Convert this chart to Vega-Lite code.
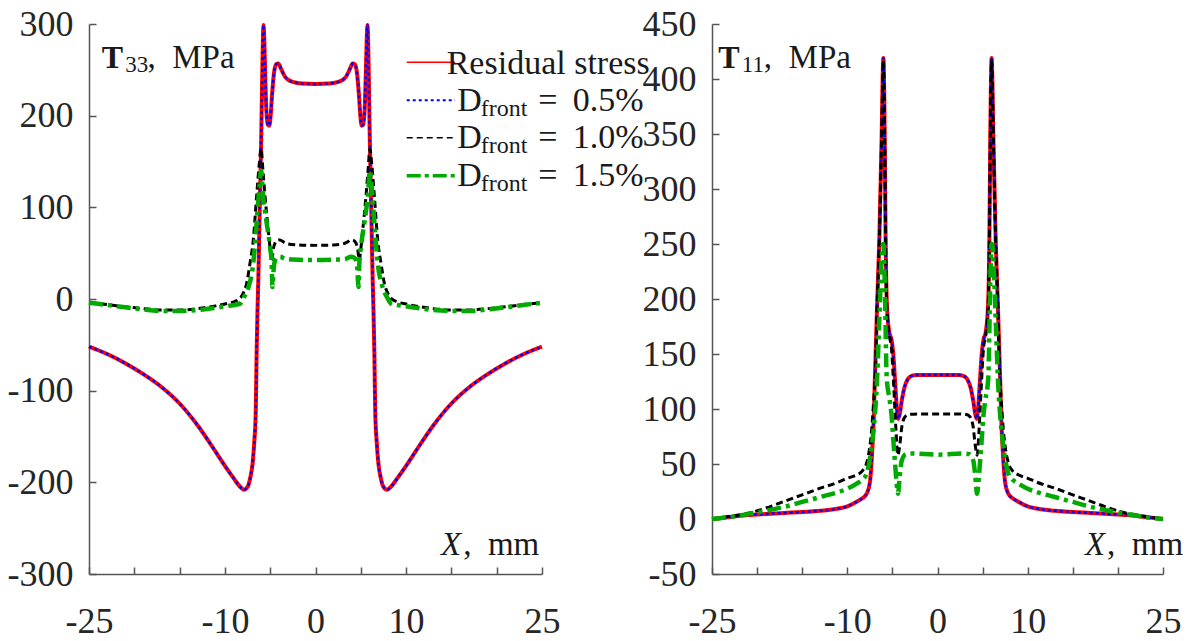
{
  "$schema": "https://vega.github.io/schema/vega-lite/v6.json",
  "padding": {"left": 7, "top": 6, "right": 0, "bottom": 0},
  "config": {
    "font": "Liberation Serif",
    "view": {"stroke": null},
    "axis": {"title": null, "grid": false, "domainColor": "#555555", "domainWidth": 1.5, "tickColor": "#555555", "tickWidth": 1.5, "tickSize": -7, "labelFont": "Liberation Serif", "labelFontSize": 36, "labelColor": "#262626", "labelOverlap": false, "labelFlush": false, "labelBound": false},
    "axisX": {"labelPadding": 37},
    "axisY": {"labelPadding": 23},
    "text": {"font": "Liberation Serif", "color": "#1a1a1a"}
  },
  "datasets": {
    "rs33": [
      {"x":-25,"y":-52},{"x":-23,"y":-60},{"x":-21,"y":-70},{"x":-19,"y":-82},{"x":-17,"y":-96},{"x":-15,"y":-114},{"x":-13,"y":-138},{"x":-11,"y":-167},{"x":-10,"y":-182},{"x":-9,"y":-196},{"x":-8.4,"y":-204},{"x":-7.9,"y":-208},{"x":-7.5,"y":-205},{"x":-7.2,"y":-195},{"x":-6.95,"y":-180},{"x":-6.75,"y":-155},{"x":-6.6,"y":-125},{"x":-6.55,"y":-95},{"x":-6.5,"y":-60},{"x":-6.4,"y":-12},{"x":-6.31,"y":21},{"x":-6.15,"y":100},{"x":-5.98,"y":182},{"x":-5.87,"y":250},{"x":-5.8,"y":285},{"x":-5.74,"y":299},{"x":-5.66,"y":285},{"x":-5.55,"y":245},{"x":-5.42,"y":205},{"x":-5.25,"y":190},{"x":-5.1,"y":189},{"x":-4.95,"y":200},{"x":-4.8,"y":222},{"x":-4.6,"y":245},{"x":-4.35,"y":256},{"x":-4.1,"y":257},{"x":-3.8,"y":251},{"x":-3.4,"y":243},{"x":-3.0,"y":239},{"x":-2.4,"y":236.5},{"x":-1.5,"y":235},{"x":0,"y":234.5},
      {"x":1.5,"y":235},{"x":2.4,"y":236.5},{"x":3.0,"y":239},{"x":3.4,"y":243},{"x":3.8,"y":251},{"x":4.1,"y":257},{"x":4.35,"y":256},{"x":4.6,"y":245},{"x":4.8,"y":222},{"x":4.95,"y":200},{"x":5.1,"y":189},{"x":5.25,"y":190},{"x":5.42,"y":205},{"x":5.55,"y":245},{"x":5.66,"y":285},{"x":5.74,"y":299},{"x":5.8,"y":285},{"x":5.87,"y":250},{"x":5.98,"y":182},{"x":6.15,"y":100},{"x":6.31,"y":21},{"x":6.4,"y":-12},{"x":6.5,"y":-60},{"x":6.55,"y":-95},{"x":6.6,"y":-125},{"x":6.75,"y":-155},{"x":6.95,"y":-180},{"x":7.2,"y":-195},{"x":7.5,"y":-205},{"x":7.9,"y":-208},{"x":8.4,"y":-204},{"x":9,"y":-196},{"x":10,"y":-182},{"x":11,"y":-167},{"x":13,"y":-138},{"x":15,"y":-114},{"x":17,"y":-96},{"x":19,"y":-82},{"x":21,"y":-70},{"x":23,"y":-60},{"x":25,"y":-52}
    ],
    "d10_33": [
      {"x":-25,"y":-4},{"x":-23,"y":-6},{"x":-21,"y":-8.5},{"x":-19,"y":-10.5},{"x":-17,"y":-12},{"x":-15,"y":-12},{"x":-13,"y":-10.5},{"x":-11,"y":-7.5},{"x":-10,"y":-5.5},{"x":-9,"y":-3},{"x":-8.3,"y":1},{"x":-7.9,"y":8},{"x":-7.6,"y":17},{"x":-7.23,"y":39},{"x":-6.87,"y":64},{"x":-6.5,"y":112},{"x":-6.2,"y":148},{"x":-6.0,"y":164},{"x":-5.8,"y":140},{"x":-5.57,"y":112},{"x":-5.21,"y":75},{"x":-4.95,"y":50},{"x":-4.84,"y":42},{"x":-4.65,"y":55},{"x":-4.47,"y":61},{"x":-4.2,"y":64},{"x":-3.92,"y":64.5},{"x":-3.5,"y":62},{"x":-3.0,"y":60},{"x":-2,"y":59},{"x":0,"y":58.5},
      {"x":2,"y":59},{"x":3.0,"y":60},{"x":3.5,"y":62},{"x":3.92,"y":64.5},{"x":4.2,"y":64},{"x":4.47,"y":61},{"x":4.65,"y":55},{"x":4.84,"y":42},{"x":4.95,"y":50},{"x":5.21,"y":75},{"x":5.57,"y":112},{"x":5.8,"y":140},{"x":6.0,"y":164},{"x":6.2,"y":148},{"x":6.5,"y":112},{"x":6.87,"y":64},{"x":7.23,"y":39},{"x":7.6,"y":17},{"x":7.9,"y":8},{"x":8.3,"y":1},{"x":9,"y":-3},{"x":10,"y":-5.5},{"x":11,"y":-7.5},{"x":13,"y":-10.5},{"x":15,"y":-12},{"x":17,"y":-12},{"x":19,"y":-10.5},{"x":21,"y":-8.5},{"x":23,"y":-6},{"x":25,"y":-4}
    ],
    "d15_33": [
      {"x":-25,"y":-4},{"x":-23,"y":-6.5},{"x":-21,"y":-9},{"x":-19,"y":-11.5},{"x":-17,"y":-13},{"x":-15,"y":-13},{"x":-13,"y":-12},{"x":-11,"y":-9.5},{"x":-10,"y":-8},{"x":-9,"y":-6.5},{"x":-8.33,"y":-5},{"x":-7.9,"y":2},{"x":-7.4,"y":13},{"x":-6.87,"y":39},{"x":-6.5,"y":83},{"x":-6.2,"y":122},{"x":-6.0,"y":140},{"x":-5.8,"y":115},{"x":-5.39,"y":83},{"x":-5.02,"y":57},{"x":-4.84,"y":39},{"x":-4.75,"y":13},{"x":-4.6,"y":35},{"x":-4.47,"y":42},{"x":-4.28,"y":45},{"x":-3.9,"y":46},{"x":-3.4,"y":44},{"x":-2.5,"y":43},{"x":0,"y":42.5},
      {"x":2.5,"y":43},{"x":3.4,"y":44},{"x":3.9,"y":46},{"x":4.28,"y":45},{"x":4.47,"y":42},{"x":4.6,"y":35},{"x":4.75,"y":13},{"x":4.84,"y":39},{"x":5.02,"y":57},{"x":5.39,"y":83},{"x":5.8,"y":115},{"x":6.0,"y":140},{"x":6.2,"y":122},{"x":6.5,"y":83},{"x":6.87,"y":39},{"x":7.4,"y":13},{"x":7.9,"y":2},{"x":8.33,"y":-5},{"x":9,"y":-6.5},{"x":10,"y":-8},{"x":11,"y":-9.5},{"x":13,"y":-12},{"x":15,"y":-13},{"x":17,"y":-13},{"x":19,"y":-11.5},{"x":21,"y":-9},{"x":23,"y":-6.5},{"x":25,"y":-4}
    ],
    "rs11": [
      {"x":-25,"y":0},{"x":-23,"y":1.8},{"x":-21,"y":3.6},{"x":-19,"y":4.6},{"x":-17,"y":5.5},{"x":-15,"y":6.3},{"x":-13,"y":7.5},{"x":-11,"y":9.5},{"x":-10,"y":11.5},{"x":-9,"y":15.5},{"x":-8.3,"y":19},{"x":-7.85,"y":23},{"x":-7.5,"y":33},{"x":-7.25,"y":60},{"x":-7.05,"y":96},{"x":-6.95,"y":126},{"x":-6.7,"y":193},{"x":-6.45,"y":254},{"x":-6.2,"y":345},{"x":-6.0,"y":419},{"x":-5.85,"y":345},{"x":-5.75,"y":254},{"x":-5.6,"y":193},{"x":-5.35,"y":170},{"x":-5.1,"y":163},{"x":-4.9,"y":150},{"x":-4.7,"y":125},{"x":-4.5,"y":100},{"x":-4.35,"y":91},{"x":-4.2,"y":95},{"x":-3.95,"y":108},{"x":-3.65,"y":120},{"x":-3.3,"y":127},{"x":-2.9,"y":130},{"x":-2.3,"y":131},{"x":0,"y":131},
      {"x":2.3,"y":131},{"x":2.9,"y":130},{"x":3.3,"y":127},{"x":3.65,"y":120},{"x":3.95,"y":108},{"x":4.2,"y":95},{"x":4.35,"y":91},{"x":4.5,"y":100},{"x":4.7,"y":125},{"x":4.9,"y":150},{"x":5.1,"y":163},{"x":5.35,"y":170},{"x":5.6,"y":193},{"x":5.75,"y":254},{"x":5.85,"y":345},{"x":6.0,"y":419},{"x":6.2,"y":345},{"x":6.45,"y":254},{"x":6.7,"y":193},{"x":6.95,"y":126},{"x":7.05,"y":96},{"x":7.25,"y":60},{"x":7.5,"y":33},{"x":7.85,"y":23},{"x":8.3,"y":19},{"x":9,"y":15.5},{"x":10,"y":11.5},{"x":11,"y":9.5},{"x":13,"y":7.5},{"x":15,"y":6.3},{"x":17,"y":5.5},{"x":19,"y":4.6},{"x":21,"y":3.6},{"x":23,"y":1.8},{"x":25,"y":0}
    ],
    "d10_11": [
      {"x":-25,"y":0},{"x":-23,"y":2.5},{"x":-21,"y":5.2},{"x":-19,"y":10},{"x":-17,"y":16},{"x":-15,"y":22},{"x":-13,"y":28},{"x":-11,"y":33.5},{"x":-10,"y":37},{"x":-9,"y":40},{"x":-8.3,"y":44},{"x":-7.85,"y":51},{"x":-7.5,"y":66},{"x":-7.3,"y":81},{"x":-7.05,"y":111},{"x":-6.9,"y":130},{"x":-6.7,"y":193},{"x":-6.45,"y":254},{"x":-6.2,"y":345},{"x":-6.0,"y":417},{"x":-5.85,"y":345},{"x":-5.75,"y":254},{"x":-5.6,"y":190},{"x":-5.35,"y":167},{"x":-5.1,"y":155},{"x":-4.85,"y":120},{"x":-4.6,"y":80},{"x":-4.4,"y":58},{"x":-4.2,"y":66},{"x":-3.95,"y":84},{"x":-3.6,"y":93},{"x":-3.2,"y":95},{"x":-2,"y":95.5},{"x":0,"y":95.5},
      {"x":2,"y":95.5},{"x":3.2,"y":95},{"x":3.6,"y":93},{"x":3.95,"y":84},{"x":4.2,"y":66},{"x":4.4,"y":58},{"x":4.6,"y":80},{"x":4.85,"y":120},{"x":5.1,"y":155},{"x":5.35,"y":167},{"x":5.6,"y":190},{"x":5.75,"y":254},{"x":5.85,"y":345},{"x":6.0,"y":417},{"x":6.2,"y":345},{"x":6.45,"y":254},{"x":6.7,"y":193},{"x":6.9,"y":130},{"x":7.05,"y":111},{"x":7.3,"y":81},{"x":7.5,"y":66},{"x":7.85,"y":51},{"x":8.3,"y":44},{"x":9,"y":40},{"x":10,"y":37},{"x":11,"y":33.5},{"x":13,"y":28},{"x":15,"y":22},{"x":17,"y":16},{"x":19,"y":10},{"x":21,"y":5.2},{"x":23,"y":2.5},{"x":25,"y":0}
    ],
    "d15_11": [
      {"x":-25,"y":0},{"x":-23,"y":1.8},{"x":-21,"y":4.5},{"x":-19,"y":7.5},{"x":-17,"y":11},{"x":-15,"y":15.5},{"x":-13,"y":20},{"x":-11,"y":24.5},{"x":-10,"y":27.5},{"x":-9,"y":32},{"x":-8.3,"y":36},{"x":-7.85,"y":41.5},{"x":-7.3,"y":66},{"x":-6.93,"y":96},{"x":-6.74,"y":120},{"x":-6.5,"y":170},{"x":-6.3,"y":215},{"x":-6.1,"y":248},{"x":-6.0,"y":250},{"x":-5.85,"y":215},{"x":-5.63,"y":128},{"x":-5.3,"y":108},{"x":-5.08,"y":93},{"x":-4.9,"y":72},{"x":-4.71,"y":51},{"x":-4.5,"y":30},{"x":-4.38,"y":23},{"x":-4.2,"y":38},{"x":-3.97,"y":53},{"x":-3.5,"y":59},{"x":-3.0,"y":59.5},{"x":0,"y":58.5},
      {"x":3.0,"y":59.5},{"x":3.5,"y":59},{"x":3.97,"y":53},{"x":4.2,"y":38},{"x":4.38,"y":23},{"x":4.5,"y":30},{"x":4.71,"y":51},{"x":4.9,"y":72},{"x":5.08,"y":93},{"x":5.3,"y":108},{"x":5.63,"y":128},{"x":5.85,"y":215},{"x":6.0,"y":250},{"x":6.1,"y":248},{"x":6.3,"y":215},{"x":6.5,"y":170},{"x":6.74,"y":120},{"x":6.93,"y":96},{"x":7.3,"y":66},{"x":7.85,"y":41.5},{"x":8.3,"y":36},{"x":9,"y":32},{"x":10,"y":27.5},{"x":11,"y":24.5},{"x":13,"y":20},{"x":15,"y":15.5},{"x":17,"y":11},{"x":19,"y":7.5},{"x":21,"y":4.5},{"x":23,"y":1.8},{"x":25,"y":0}
    ],
    "note": [{}]
  },
  "spacing": 170,
  "bounds": "flush",
  "hconcat": [
    {
      "width": 453,
      "height": 550,
      "layer": [
        {"data": {"name": "rs33"}, "mark": {"type": "line", "color": "#ff0000", "strokeWidth": 4, "interpolate": "monotone"},
         "encoding": {
           "x": {"field": "x", "type": "quantitative", "scale": {"domain": [-25, 25], "nice": false}, "axis": {"values": [-25,-20,-15,-10,-5,0,5,10,15,20,25], "labelExpr": "(datum.value == -25 || datum.value == -10 || datum.value == 0 || datum.value == 10 || datum.value == 25) ? '' + datum.value : ''"}},
           "y": {"field": "y", "type": "quantitative", "scale": {"domain": [-300, 300], "nice": false}, "axis": {"values": [-300,-200,-100,0,100,200,300], "labelExpr": "'' + datum.value"}}
         }},
        {"data": {"name": "rs33"}, "mark": {"type": "line", "color": "#0000ff", "strokeWidth": 2.5, "strokeDash": [3, 3], "interpolate": "monotone"},
         "encoding": {"x": {"field": "x", "type": "quantitative"}, "y": {"field": "y", "type": "quantitative"}}},
        {"data": {"name": "d10_33"}, "mark": {"type": "line", "color": "#000000", "strokeWidth": 3, "strokeDash": [7, 4], "interpolate": "monotone"},
         "encoding": {"x": {"field": "x", "type": "quantitative"}, "y": {"field": "y", "type": "quantitative"}}},
        {"data": {"name": "d15_33"}, "mark": {"type": "line", "color": "#00aa00", "strokeWidth": 4.5, "strokeDash": [14, 5, 4, 5], "interpolate": "monotone"},
         "encoding": {"x": {"field": "x", "type": "quantitative"}, "y": {"field": "y", "type": "quantitative"}}},
        {"data": {"name": "note"}, "mark": {"type": "text", "text": "T", "fontWeight": "bold", "fontSize": 32, "align": "left", "baseline": "alphabetic"},
         "encoding": {"x": {"datum": -23.6, "type": "quantitative"}, "y": {"datum": 251.7, "type": "quantitative"}}},
        {"data": {"name": "note"}, "mark": {"type": "text", "text": "33", "fontSize": 23, "align": "left", "baseline": "alphabetic"},
         "encoding": {"x": {"datum": -21.0, "type": "quantitative"}, "y": {"datum": 248, "type": "quantitative"}}},
        {"data": {"name": "note"}, "mark": {"type": "text", "text": ",\u00a0\u00a0MPa", "fontSize": 33, "align": "left", "baseline": "alphabetic"},
         "encoding": {"x": {"datum": -18.55, "type": "quantitative"}, "y": {"datum": 251.7, "type": "quantitative"}}},
        {"data": {"name": "note"}, "mark": {"type": "text", "text": "X", "fontStyle": "italic", "fontSize": 33, "align": "left", "baseline": "alphabetic"},
         "encoding": {"x": {"datum": 13.85, "type": "quantitative"}, "y": {"datum": -279.3, "type": "quantitative"}}},
        {"data": {"name": "note"}, "mark": {"type": "text", "text": ",\u00a0\u00a0mm", "fontSize": 33, "align": "left", "baseline": "alphabetic"},
         "encoding": {"x": {"datum": 16.3, "type": "quantitative"}, "y": {"datum": -279.3, "type": "quantitative"}}},
        {"data": {"name": "note"}, "mark": {"type": "rule", "color": "#ff0000", "strokeWidth": 1.5},
         "encoding": {"x": {"datum": 10.07, "type": "quantitative"}, "x2": {"datum": 15.4}, "y": {"datum": 258.2, "type": "quantitative"}}},
        {"data": {"name": "note"}, "mark": {"type": "rule", "color": "#0000ff", "strokeWidth": 2, "strokeDash": [3, 3]},
         "encoding": {"x": {"datum": 10.07, "type": "quantitative"}, "x2": {"datum": 15.4}, "y": {"datum": 216.8, "type": "quantitative"}}},
        {"data": {"name": "note"}, "mark": {"type": "rule", "color": "#000000", "strokeWidth": 1.5, "strokeDash": [6, 4]},
         "encoding": {"x": {"datum": 10.07, "type": "quantitative"}, "x2": {"datum": 15.4}, "y": {"datum": 176, "type": "quantitative"}}},
        {"data": {"name": "note"}, "mark": {"type": "rule", "color": "#00aa00", "strokeWidth": 3.5, "strokeDash": [14, 4, 4, 4]},
         "encoding": {"x": {"datum": 10.07, "type": "quantitative"}, "x2": {"datum": 15.4}, "y": {"datum": 134.5, "type": "quantitative"}}},
        {"data": {"name": "note"}, "mark": {"type": "text", "text": "Residual stress", "fontSize": 34, "align": "left", "baseline": "alphabetic"},
         "encoding": {"x": {"datum": 14.48, "type": "quantitative"}, "y": {"datum": 245.5, "type": "quantitative"}}},
        {"data": {"name": "note"}, "mark": {"type": "text", "text": "D", "fontSize": 34, "align": "left", "baseline": "alphabetic"},
         "encoding": {"x": {"datum": 15.65, "type": "quantitative"}, "y": {"datum": 205.1, "type": "quantitative"}}},
        {"data": {"name": "note"}, "mark": {"type": "text", "text": "front", "fontSize": 24, "align": "left", "baseline": "alphabetic"},
         "encoding": {"x": {"datum": 18.25, "type": "quantitative"}, "y": {"datum": 199.6, "type": "quantitative"}}},
        {"data": {"name": "note"}, "mark": {"type": "text", "text": "=\u00a0\u20090.5%", "fontSize": 34, "align": "left", "baseline": "alphabetic"},
         "encoding": {"x": {"datum": 24.59, "type": "quantitative"}, "y": {"datum": 205.1, "type": "quantitative"}}},
        {"data": {"name": "note"}, "mark": {"type": "text", "text": "D", "fontSize": 34, "align": "left", "baseline": "alphabetic"},
         "encoding": {"x": {"datum": 15.65, "type": "quantitative"}, "y": {"datum": 164.4, "type": "quantitative"}}},
        {"data": {"name": "note"}, "mark": {"type": "text", "text": "front", "fontSize": 24, "align": "left", "baseline": "alphabetic"},
         "encoding": {"x": {"datum": 18.25, "type": "quantitative"}, "y": {"datum": 159, "type": "quantitative"}}},
        {"data": {"name": "note"}, "mark": {"type": "text", "text": "=\u00a0\u20091.0%", "fontSize": 34, "align": "left", "baseline": "alphabetic"},
         "encoding": {"x": {"datum": 24.59, "type": "quantitative"}, "y": {"datum": 164.4, "type": "quantitative"}}},
        {"data": {"name": "note"}, "mark": {"type": "text", "text": "D", "fontSize": 34, "align": "left", "baseline": "alphabetic"},
         "encoding": {"x": {"datum": 15.65, "type": "quantitative"}, "y": {"datum": 123.3, "type": "quantitative"}}},
        {"data": {"name": "note"}, "mark": {"type": "text", "text": "front", "fontSize": 24, "align": "left", "baseline": "alphabetic"},
         "encoding": {"x": {"datum": 18.25, "type": "quantitative"}, "y": {"datum": 117.8, "type": "quantitative"}}},
        {"data": {"name": "note"}, "mark": {"type": "text", "text": "=\u00a0\u20091.5%", "fontSize": 34, "align": "left", "baseline": "alphabetic"},
         "encoding": {"x": {"datum": 24.59, "type": "quantitative"}, "y": {"datum": 123.3, "type": "quantitative"}}}
      ]
    },
    {
      "width": 451,
      "height": 550,
      "layer": [
        {"data": {"name": "rs11"}, "mark": {"type": "line", "color": "#ff0000", "strokeWidth": 4, "interpolate": "monotone"},
         "encoding": {
           "x": {"field": "x", "type": "quantitative", "scale": {"domain": [-25, 25], "nice": false}, "axis": {"values": [-25,-20,-15,-10,-5,0,5,10,15,20,25], "labelExpr": "(datum.value == -25 || datum.value == -10 || datum.value == 0 || datum.value == 10 || datum.value == 25) ? '' + datum.value : ''"}},
           "y": {"field": "y", "type": "quantitative", "scale": {"domain": [-50, 450], "nice": false}, "axis": {"values": [-50,0,50,100,150,200,250,300,350,400,450], "labelExpr": "'' + datum.value"}}
         }},
        {"data": {"name": "rs11"}, "mark": {"type": "line", "color": "#0000ff", "strokeWidth": 2.5, "strokeDash": [3, 3], "interpolate": "monotone"},
         "encoding": {"x": {"field": "x", "type": "quantitative"}, "y": {"field": "y", "type": "quantitative"}}},
        {"data": {"name": "d10_11"}, "mark": {"type": "line", "color": "#000000", "strokeWidth": 3, "strokeDash": [7, 4], "interpolate": "monotone"},
         "encoding": {"x": {"field": "x", "type": "quantitative"}, "y": {"field": "y", "type": "quantitative"}}},
        {"data": {"name": "d15_11"}, "mark": {"type": "line", "color": "#00aa00", "strokeWidth": 4.5, "strokeDash": [14, 5, 4, 5], "interpolate": "monotone"},
         "encoding": {"x": {"field": "x", "type": "quantitative"}, "y": {"field": "y", "type": "quantitative"}}},
        {"data": {"name": "note"}, "mark": {"type": "text", "text": "T", "fontWeight": "bold", "fontSize": 32, "align": "left", "baseline": "alphabetic"},
         "encoding": {"x": {"datum": -24.3, "type": "quantitative"}, "y": {"datum": 409.7, "type": "quantitative"}}},
        {"data": {"name": "note"}, "mark": {"type": "text", "text": "11", "fontSize": 23, "align": "left", "baseline": "alphabetic"},
         "encoding": {"x": {"datum": -21.7, "type": "quantitative"}, "y": {"datum": 406.6, "type": "quantitative"}}},
        {"data": {"name": "note"}, "mark": {"type": "text", "text": ",\u00a0\u00a0MPa", "fontSize": 33, "align": "left", "baseline": "alphabetic"},
         "encoding": {"x": {"datum": -19.25, "type": "quantitative"}, "y": {"datum": 409.7, "type": "quantitative"}}},
        {"data": {"name": "note"}, "mark": {"type": "text", "text": "X", "fontStyle": "italic", "fontSize": 33, "align": "left", "baseline": "alphabetic"},
         "encoding": {"x": {"datum": 16.35, "type": "quantitative"}, "y": {"datum": -32.7, "type": "quantitative"}}},
        {"data": {"name": "note"}, "mark": {"type": "text", "text": ",\u00a0\u00a0mm", "fontSize": 33, "align": "left", "baseline": "alphabetic"},
         "encoding": {"x": {"datum": 18.8, "type": "quantitative"}, "y": {"datum": -32.7, "type": "quantitative"}}}
      ]
    }
  ]
}
